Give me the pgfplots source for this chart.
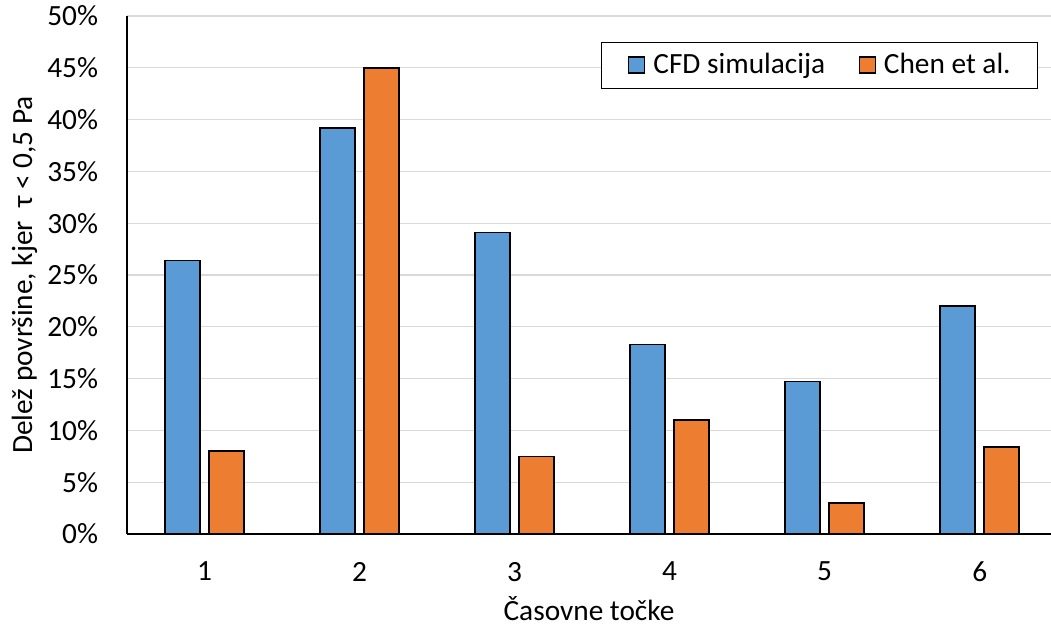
\documentclass[border=0pt]{standalone}
\usepackage{fontspec}
\setmainfont{Carlito}
\usepackage{pgfplots}
\pgfplotsset{compat=1.18}
\definecolor{cblue}{HTML}{5B9BD5}
\definecolor{corange}{HTML}{ED7D31}
\definecolor{cgrid}{HTML}{D9D9D9}
\newcommand\cf{\fontsize{22pt}{26pt}\selectfont}
\pgfplotstableread{
x cfd chen
1 26.4 8.0
2 39.2 45.0
3 29.1 7.5
4 18.3 11.0
5 14.7 3.0
6 22.0 8.4
}\datatab
\begin{document}
\cf
\begin{tikzpicture}
\useasboundingbox (-95.25pt,-69.75pt) rectangle (693pt,400.5pt);
\begin{axis}[
  at={(0pt,0pt)}, anchor=south west,
  scale only axis, width=693pt, height=388.5pt,
  xmin=0.5, xmax=6.46, ymin=0, ymax=50,
  xtick={1,2,3,4,5,6}, ytick={0,5,...,50},
  major tick length=0pt,
  axis x line*=bottom, axis y line*=left,
  axis line style={-, black, line width=1.5pt},
  ymajorgrids, grid style={cgrid, line width=1pt},
  /pgf/number format/assume math mode=true,
  yticklabel={\pgfmathprintnumber{\tick}\%},
  yticklabel style={font=\cf, anchor=east, inner sep=0pt, xshift=-21.5pt},
  xticklabel style={font=\cf, anchor=north, inner sep=0pt, yshift=-20.8pt},
  xlabel={Časovne točke},
  xlabel style={font=\cf, at={(axis description cs:0.5,0)}, anchor=base, inner sep=0pt, yshift=-65pt},
  ylabel={Delež površine, kjer\ \ τ < 0,5 Pa},
  ylabel style={font=\cf, at={(axis description cs:-0.1028,0.5)}, anchor=base, inner sep=0pt},
  ybar=6.75pt, bar width=26.25pt,
  legend columns=2,
  legend style={font=\cf, at={(rel axis cs:1,1)}, anchor=north east, xshift=-9.75pt, yshift=-19.5pt,
    draw=black, line width=1pt, inner xsep=20pt, inner ysep=8pt,
    nodes={inner sep=0pt},
    /tikz/every odd column/.append style={column sep=6pt},
    /tikz/every even column/.append style={column sep=25pt}},
  legend image code/.code={\draw[#1, line width=1pt] (0pt,-5.5pt) rectangle (12pt,6.5pt);},
]
\addplot[fill=cblue, draw=black, line width=1.1pt] table[x=x, y=cfd] {\datatab};
\addplot[fill=corange, draw=black, line width=1.1pt] table[x=x, y=chen] {\datatab};
\legend{CFD simulacija, Chen et al.}
\end{axis}
\end{tikzpicture}
\end{document}
